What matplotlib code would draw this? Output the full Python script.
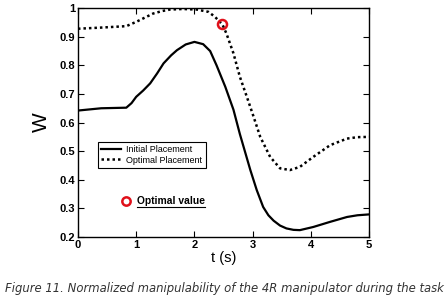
import matplotlib
matplotlib.use('Agg')
import matplotlib.pyplot as plt

# Данные
t_init = [0, 0.4, 0.83, 0.92, 1.0, 1.12, 1.24, 1.36, 1.47, 1.6, 1.7, 1.85, 2.0, 2.15,
          2.27, 2.38, 2.53, 2.67, 2.78, 2.88, 2.96, 3.07, 3.18, 3.27, 3.36, 3.47, 3.58,
          3.7, 3.81, 4.04, 4.33, 4.62, 4.8, 5.0]
w_init = [0.642, 0.650, 0.652, 0.668, 0.69, 0.712, 0.737, 0.772, 0.807, 0.835, 0.853,
          0.873, 0.882, 0.874, 0.85, 0.80, 0.725, 0.645, 0.56, 0.49, 0.434, 0.364, 0.305,
          0.276, 0.257, 0.240, 0.230, 0.225, 0.224, 0.235, 0.253, 0.270, 0.276, 0.279]

t_opt = [0, 0.4, 0.83, 1.0, 1.15, 1.29, 1.45, 1.58, 1.8, 2.04, 2.24, 2.35, 2.48, 2.55,
         2.67, 2.78, 2.9, 3.0, 3.13, 3.3, 3.47, 3.64, 3.81, 4.04, 4.33, 4.62, 4.8, 5.0]
w_opt = [0.928, 0.932, 0.937, 0.952, 0.967, 0.981, 0.99, 0.995, 0.997, 0.995, 0.987,
         0.97, 0.943, 0.911, 0.842, 0.76, 0.69, 0.63, 0.55, 0.48, 0.44, 0.434, 0.445,
         0.48, 0.521, 0.544, 0.549, 0.55]

t_best, w_best = 2.48, 0.943

plt.rcParams['font.family'] = ['Liberation Sans', 'DejaVu Sans']

fig = plt.figure(figsize=(4.48, 3.01), dpi=100)
ax = fig.add_axes([0.174, 0.2126, 0.650, 0.7604])

ax.plot(t_init, w_init, color='black', lw=1.6, label='Initial Placement')
ax.plot(t_opt, w_opt, color='black', lw=1.8, linestyle=(0, (1, 1.2)), label='Optimal Placement')
ax.plot([t_best], [w_best], 'o', mfc='none', mec='#e0101a', mew=1.8, ms=6.5)

ax.set_xlim(0, 5)
ax.set_ylim(0.2, 1)
ax.set_xticks([0, 1, 2, 3, 4, 5])
ax.set_yticks([0.2, 0.3, 0.4, 0.5, 0.6, 0.7, 0.8, 0.9, 1.0])
ax.set_yticklabels(['0.2', '0.3', '0.4', '0.5', '0.6', '0.7', '0.8', '0.9', '1'])
ax.tick_params(direction='in', top=True, right=True, length=4, width=0.8,
               labelsize=8, pad=2)
for lbl in ax.get_xticklabels() + ax.get_yticklabels():
    lbl.set_fontweight('bold')
for s in ax.spines.values():
    s.set_linewidth(1.0)

ax.set_xlabel('t (s)', fontsize=10.5, labelpad=1)
ax.set_ylabel('W', fontsize=15, labelpad=6)

leg = ax.legend(loc='upper left', bbox_to_anchor=(0.069, 0.415), borderaxespad=0,
                fancybox=False, edgecolor='black', framealpha=1, fontsize=6.5,
                handlelength=2.2, handletextpad=0.6, borderpad=0.35, labelspacing=0.15)
leg.get_frame().set_linewidth(0.8)

# подпись "Optimal value"
ax.plot([0.165], [0.156], 'o', mfc='none', mec='#e0101a', mew=1.8, ms=6,
        transform=ax.transAxes, clip_on=False)
ax.text(0.202, 0.158, 'Optimal value', transform=ax.transAxes, fontsize=7.4,
        fontweight='bold', va='center', ha='left')
ax.plot([0.202, 0.436], [0.130, 0.130], color='black', lw=0.8, transform=ax.transAxes)

fig.text(0.5, 0.04, 'Figure 11. Normalized manipulability of the 4R manipulator during the task',
         fontsize=8.4, style='italic', color='#333333', family=['DejaVu Sans'],
         va='center', ha='center')

fig.savefig('out.png', dpi=100)
